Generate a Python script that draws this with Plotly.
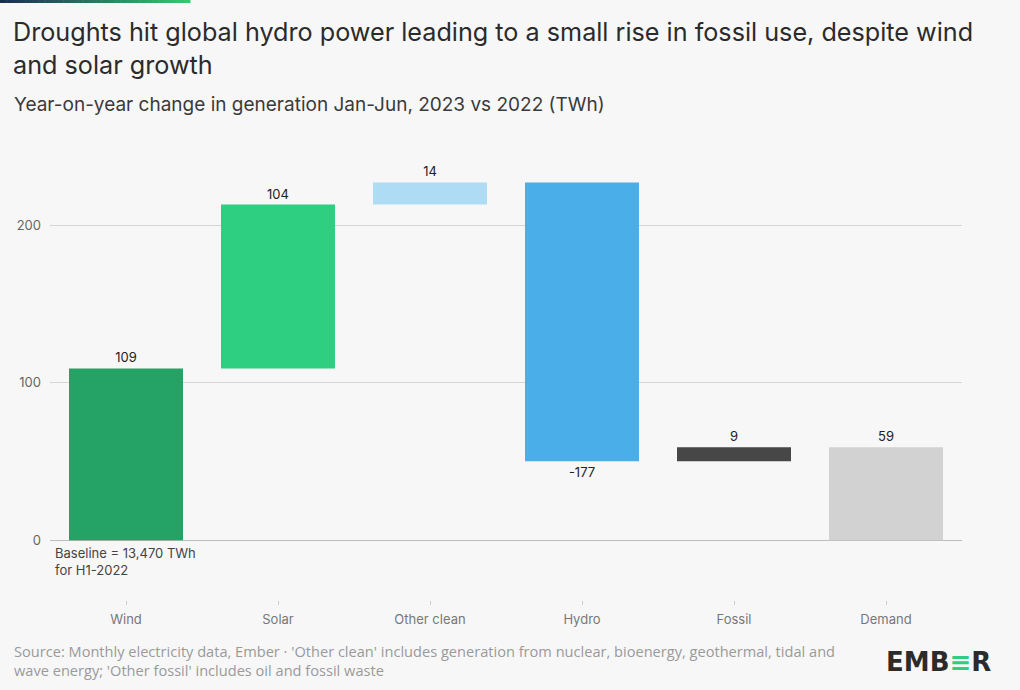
import plotly.graph_objects as go

categories = ["Wind", "Solar", "Other clean", "Hydro", "Fossil", "Demand"]
changes = [109, 104, 14, -177, 9, 59]
colors = ["#25a366", "#2ecf80", "#aedcf5", "#4aaee8", "#474747", "#d2d2d2"]
label_text = ["109", "104", "14", "-177", "9", "59"]

# waterfall bases: cumulative for the changes, total bar starts at 0
bases = []
run = 0
for i, v in enumerate(changes):
    if i == len(changes) - 1:
        bases.append(0)
    else:
        bases.append(run)
        run += v

W, H = 1020, 690
L, R, T, B = 50, 58, 162, 90
PW, PH = W - L - R, H - T - B

fig = go.Figure()
fig.add_trace(go.Bar(
    x=categories, y=changes, base=bases,
    marker=dict(color=colors, line=dict(width=0)),
    width=0.75,
    text=label_text, textposition="outside",
    textfont=dict(family="Inter, Noto Sans, sans-serif", size=13, color="#222"),
    cliponaxis=False, hoverinfo="skip",
))

fig.update_layout(
    width=W, height=H,
    margin=dict(l=L, r=R, t=T, b=B),
    paper_bgcolor="#f7f7f7", plot_bgcolor="#f7f7f7",
    showlegend=False, bargap=0.25,
    font=dict(family="Inter, Noto Sans, sans-serif"),
    yaxis=dict(range=[-38, 240], tickvals=[0, 100, 200], showgrid=True,
               gridcolor="#d6d6d6", gridwidth=1, zeroline=True, zerolinecolor="#bdbdbd",
               zerolinewidth=1, showline=False, ticks="",
               tickfont=dict(size=13, color="#666"), ticklabelstandoff=8),
    xaxis=dict(showgrid=False, showline=False, ticks="outside", ticklen=4,
               tickcolor="#cccccc", tickwidth=1,
               tickfont=dict(size=13, color="#777"), ticklabelstandoff=3),
)


def xp(x):
    return (x - L) / PW


def yp(y):
    return (H - B - y) / PH


# top gradient bar
c0 = (26, 46, 84)
c1 = (60, 196, 110)
n = 30
for i in range(n):
    t = i / (n - 1)
    c = tuple(int(c0[k] + (c1[k] - c0[k]) * t) for k in range(3))
    fig.add_shape(type="rect", xref="paper", yref="paper",
                  x0=xp(190 * i / n), x1=xp(190 * (i + 1) / n + 0.5),
                  y0=yp(3), y1=yp(0), line=dict(width=0),
                  fillcolor="rgb(%d,%d,%d)" % c, layer="above")


def ann(text, x, y, size, color, xanchor="left", yanchor="top", family=None):
    fig.add_annotation(text=text, x=xp(x), y=yp(y), xref="paper", yref="paper",
                       xanchor=xanchor, yanchor=yanchor, showarrow=False,
                       align="left",
                       font=dict(size=size, color=color,
                                 family=family or "Inter, Noto Sans, sans-serif"))


ann("Droughts hit global hydro power leading to a small rise in fossil use, despite wind<br>and solar growth",
    11, 15, 25.2, "#2b2b2b")
ann("Year-on-year change in generation Jan-Jun, 2023 vs 2022 (TWh)", 12, 91, 19, "#3a3a3a")
ann("Baseline = 13,470 TWh<br>for H1-2022", 53, 543, 13, "#444")
ann("Source: Monthly electricity data, Ember · 'Other clean' includes generation from nuclear, bioenergy, geothermal, tidal and<br>"
    "wave energy; 'Other fossil' includes oil and fossil waste",
    12, 660, 14.6, "#9a9a9a", yanchor="middle", family="Open Sans, sans-serif")
ann("<b>EMB<span style='color:#2ecf80'>≡</span>R</b>", 993, 662, 26, "#2b2b2b",
    xanchor="right", yanchor="middle", family="DejaVu Sans, sans-serif")

fig.write_html("out.html", config={"displayModeBar": False},
               post_script="document.body.style.margin='0';document.body.style.overflow='hidden';")
